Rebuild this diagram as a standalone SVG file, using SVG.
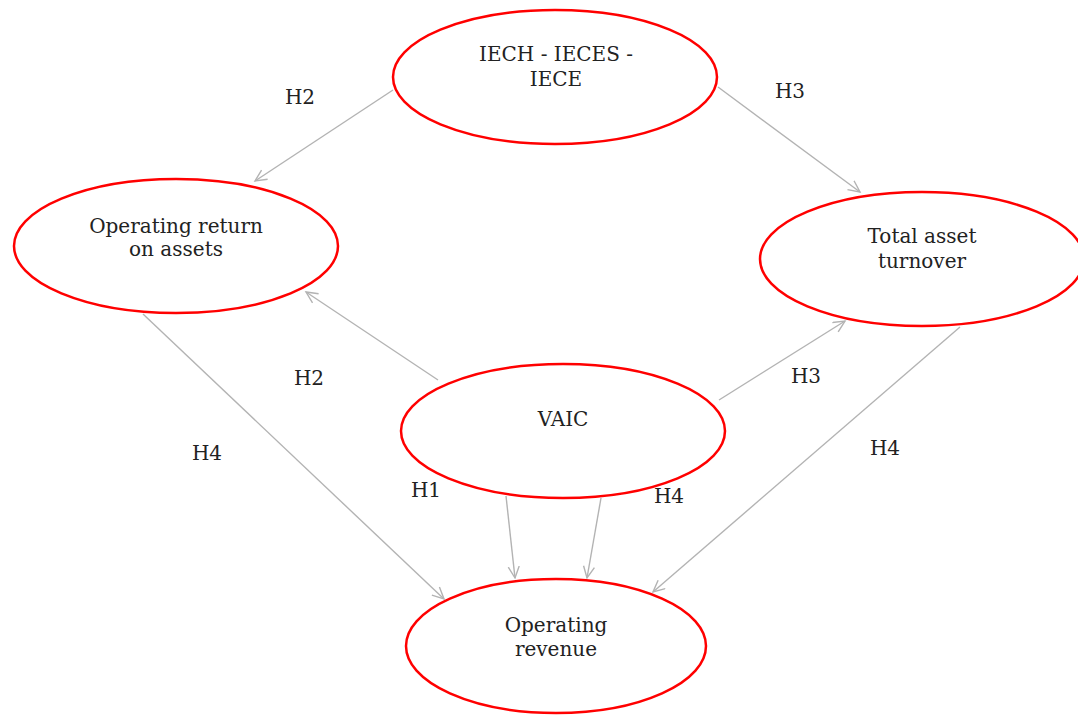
<svg xmlns="http://www.w3.org/2000/svg" width="1078" height="715" viewBox="0 0 1078 715">
<style>
.n{fill:#fff;stroke:#ff0000;stroke-width:2.5}
.t{font-family:"DejaVu Serif",serif;font-size:20px;fill:#222;text-anchor:middle}
.e{stroke:#b3b3b3;stroke-width:1.4;fill:none;marker-end:url(#a)}
</style>
<defs>
<marker id="a" markerUnits="userSpaceOnUse" markerWidth="14" markerHeight="14" refX="12" refY="6" orient="auto">
<path d="M0.5,0.5 L12,6 L0.5,11.5" fill="none" stroke="#b3b3b3" stroke-width="1.4"/>
</marker>
</defs>
<rect width="1078" height="715" fill="#fff"/>
<g id="edges">
<path class="e" d="M393,90 L255,181"/>
<path class="e" d="M718,87 L860,192"/>
<path class="e" d="M438,380 L306,292"/>
<path class="e" d="M719,400 L845,321"/>
<path class="e" d="M143,314 L444,599"/>
<path class="e" d="M960,327 L653,592"/>
<path class="e" d="M506,496 L515,578"/>
<path class="e" d="M601,498 L587,578"/>
<text class="t" x="300" y="104">H2</text>
<text class="t" x="790" y="98">H3</text>
<text class="t" x="309" y="385">H2</text>
<text class="t" x="806" y="383">H3</text>
<text class="t" x="207" y="460">H4</text>
<text class="t" x="885" y="455">H4</text>
<text class="t" x="426" y="497">H1</text>
<text class="t" x="669" y="503">H4</text>
</g>
<g id="iech">
<ellipse class="n" cx="555" cy="77" rx="162" ry="67"/>
<text class="t" x="556" y="61">IECH - IECES -</text>
<text class="t" x="556" y="86">IECE</text>
</g>
<g id="ora">
<ellipse class="n" cx="176" cy="246" rx="162" ry="67"/>
<text class="t" x="176" y="233">Operating return</text>
<text class="t" x="176" y="256">on assets</text>
</g>
<g id="tat">
<ellipse class="n" cx="922" cy="259" rx="162" ry="67"/>
<text class="t" x="922" y="243">Total asset</text>
<text class="t" x="922" y="268">turnover</text>
</g>
<g id="vaic">
<ellipse class="n" cx="563" cy="431" rx="162" ry="67"/>
<text class="t" x="563" y="426">VAIC</text>
</g>
<g id="or">
<ellipse class="n" cx="556" cy="646" rx="150" ry="67"/>
<text class="t" x="556" y="632">Operating</text>
<text class="t" x="556" y="656">revenue</text>
</g>
</svg>
